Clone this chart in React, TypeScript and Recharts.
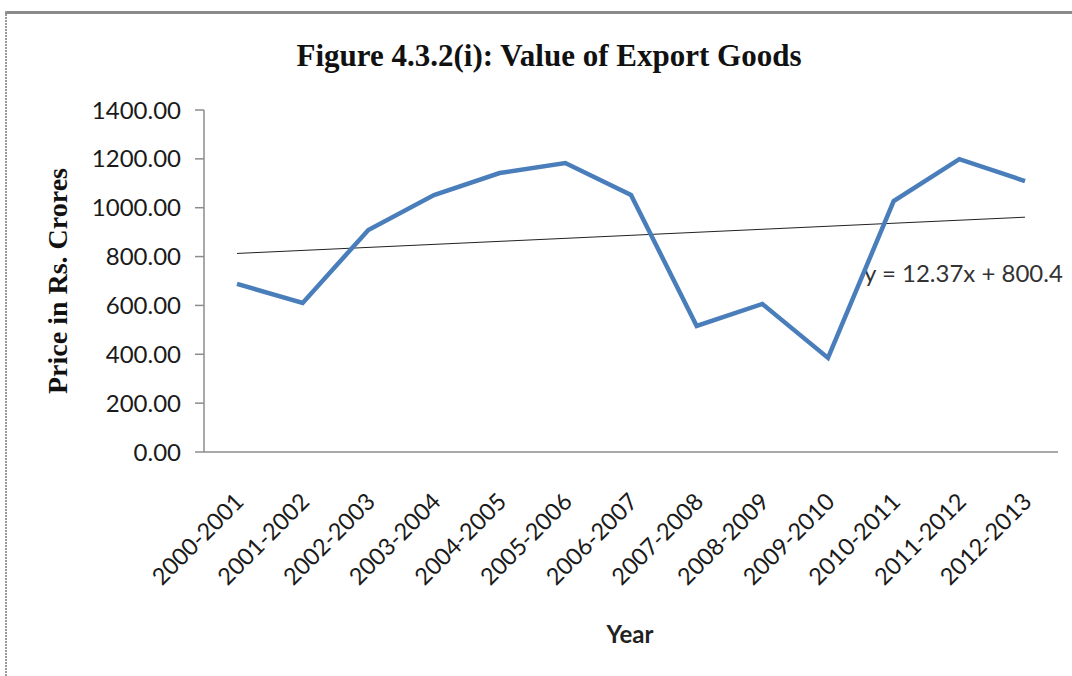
import { LineChart, Line, XAxis, YAxis } from 'recharts';

const years = [
  '2000-2001', '2001-2002', '2002-2003', '2003-2004', '2004-2005', '2005-2006', '2006-2007',
  '2007-2008', '2008-2009', '2009-2010', '2010-2011', '2011-2012', '2012-2013',
];
const exportValues = [688, 610, 909, 1052, 1142, 1183, 1052, 516, 606, 385, 1027, 1199, 1109];
// linear trendline, read at its two ends (y = 12.37x + 800.4)
const trendValues = [812.8, null, null, null, null, null, null, null, null, null, null, null, 961.2];
const yTicks = [0, 200, 400, 600, 800, 1000, 1200, 1400];

const data = years.map((year, i) => ({ year, value: exportValues[i], trend: trendValues[i] }));

const sans = 'Lato, "Open Sans", sans-serif';
const serif = '"Liberation Serif", "Times New Roman", serif';

function YearTick({ x, y, payload }: any) {
  return (
    <g transform={`translate(${x + 4},${y + 39})`}>
      <text transform="rotate(-45)" textAnchor="end" dominantBaseline="middle" fontSize={23.5} fill="#1a1a1a" fontFamily={sans}>
        {payload.value}
      </text>
    </g>
  );
}

export default function App() {
  return (
    <div style={{ position: 'fixed', left: 0, top: 0, width: 1072, height: 676, background: '#fff', overflow: 'hidden' }}>
      <svg width={1072} height={676} style={{ position: 'absolute', left: 0, top: 0 }}>
        <line x1={5} y1={12.5} x2={1072} y2={12.5} stroke="#8a8a8a" strokeWidth={3} />
        <line x1={6} y1={11} x2={6} y2={676} stroke="#9a9a9a" strokeWidth={2} strokeDasharray="2 1" />
      </svg>
      <div style={{ position: 'absolute', left: 0, width: 1098, top: 38, textAlign: 'center', fontFamily: serif, fontWeight: 700, fontSize: 31, color: '#111' }}>
        Figure 4.3.2(i): Value of Export Goods
      </div>
      <div style={{ position: 'absolute', left: 58, top: 281, width: 0, height: 0 }}>
        <div style={{ position: 'absolute', transform: 'translate(-50%,-50%) rotate(-90deg)', whiteSpace: 'nowrap', fontFamily: serif, fontWeight: 700, fontSize: 28, color: '#111' }}>
          Price in Rs. Crores
        </div>
      </div>
      <div style={{ position: 'absolute', left: 630, top: 633, transform: 'translate(-50%,-50%)', fontFamily: sans, fontWeight: 700, fontSize: 24, color: '#222' }}>
        Year
      </div>
      <div style={{ position: 'absolute', left: 864, top: 272, transform: 'translateY(-50%)', whiteSpace: 'nowrap', fontFamily: sans, fontSize: 24, color: '#333' }}>
        y = 12.37x + 800.4
      </div>
      <LineChart width={1072} height={676} data={data} margin={{ top: 110, right: 14, bottom: 124, left: 104 }} style={{ position: 'absolute', left: 0, top: 0 }}>
        <XAxis
          dataKey="year"
          height={100}
          padding={{ left: 33, right: 33 }}
          tickLine={false}
          axisLine={{ stroke: '#8c8c8c', strokeWidth: 1.5 }}
          tick={<YearTick />}
          interval={0}
        />
        <YAxis
          width={100}
          domain={[0, 1400]}
          ticks={yTicks}
          interval={0}
          tickFormatter={(v: number) => v.toFixed(2)}
          tickSize={9}
          tickMargin={14}
          axisLine={{ stroke: '#8c8c8c', strokeWidth: 1.5 }}
          tickLine={{ stroke: '#8c8c8c', strokeWidth: 1.5 }}
          tick={{ fontSize: 24, fill: '#1a1a1a', fontFamily: sans }}
        />
        <Line dataKey="trend" stroke="#222" strokeWidth={1} dot={false} connectNulls isAnimationActive={false} />
        <Line dataKey="value" stroke="#4a7ebb" strokeWidth={4.5} dot={false} strokeLinejoin="miter" isAnimationActive={false} />
      </LineChart>
    </div>
  );
}
